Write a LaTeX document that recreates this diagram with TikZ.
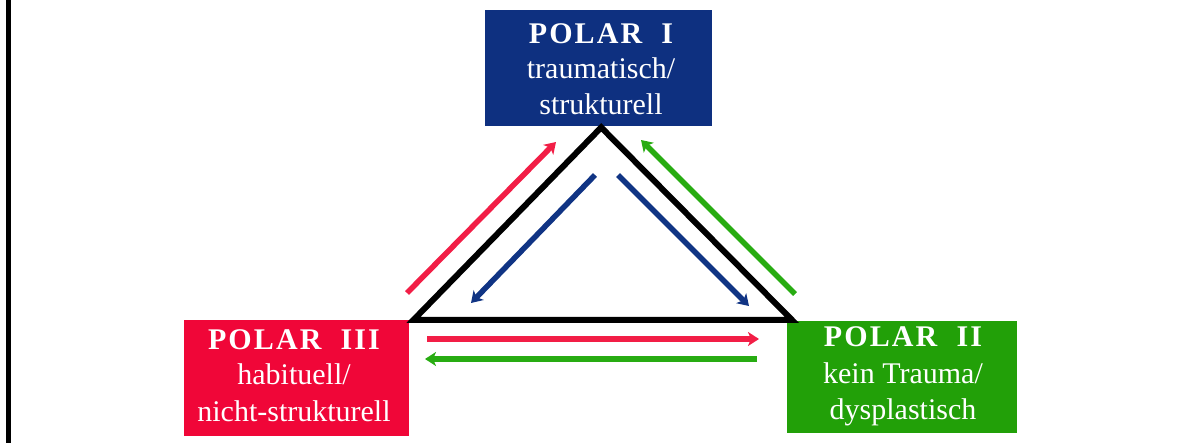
\documentclass[tikz,border=0pt]{standalone}
\usepackage{fontspec}
\setmainfont{Liberation Serif}
\usetikzlibrary{arrows.meta}
\definecolor{pblue}{RGB}{14,48,128}
\definecolor{pred}{RGB}{240,6,56}
\definecolor{pgreen}{RGB}{34,160,8}
\definecolor{ared}{RGB}{242,30,70}
\definecolor{ablue}{RGB}{16,52,132}
\definecolor{agreen}{RGB}{40,172,18}
\begin{document}
\begin{tikzpicture}[x=1pt,y=-1pt,
  polebox/.style={rectangle, draw=none, anchor=north west, inner sep=0pt},
  title/.style={anchor=base, text=white, inner sep=0pt, font=\fontsize{30}{36}\selectfont\bfseries\addfontfeatures{LetterSpace=7}},
  sub/.style={anchor=base, text=white, inner sep=0pt, font=\fontsize{30}{36}\selectfont},
  arr/.style={line width=5.5pt, -{Stealth[length=11pt,width=14pt,inset=3pt]}}
]
\useasboundingbox (0,0) rectangle (1195,443);
\draw[line width=5pt] (8.5,0) -- (8.5,443);

% boxes
\node[polebox, fill=pblue, minimum width=227pt, minimum height=116pt] (p1) at (485,10) {};
\node[polebox, fill=pred, minimum width=225pt, minimum height=116pt] (p3) at (184,320) {};
\node[polebox, fill=pgreen, minimum width=230pt, minimum height=112pt] (p2) at (787,321) {};

% texts
\node[title] (p1a) at (601,44) {POLAR\ \ I};
\node[sub] (p1b) at (601,79) {traumatisch/};
\node[sub] (p1c) at (601,115) {strukturell};

\node[title] (p3a) at (294,350) {POLAR\ \ III};
\node[sub] (p3b) at (294,385) {habituell/};
\node[sub] (p3c) at (294,422) {nicht-strukturell};

\node[title] (p2a) at (903,347) {POLAR\ \ II};
\node[sub] (p2b) at (903,384) {kein Trauma/};
\node[sub] (p2c) at (903,420) {dysplastisch};

% triangle
\draw[line width=6pt, line join=miter]
  ([shift={(2.5,1)}]p1.south) -- ([shift={(4,0)}]p3.north east) -- ([shift={(5,-1)}]p2.north west) -- cycle;

% arrow coordinates
\coordinate (r1s) at (407,293); \coordinate (r1e) at (556,142);
\coordinate (g1s) at (795,294); \coordinate (g1e) at (641,140);
\coordinate (b1s) at (595,175); \coordinate (b1e) at (471,303);
\coordinate (b2s) at (618,175); \coordinate (b2e) at (749,306);
\coordinate (r2s) at (427,339); \coordinate (r2e) at (759,339);
\coordinate (g2s) at (757,359); \coordinate (g2e) at (425,359);

\draw[arr, ared] (r1s) -- (r1e);
\draw[arr, agreen] (g1s) -- (g1e);
\draw[arr, ablue] (b1s) -- (b1e);
\draw[arr, ablue] (b2s) -- (b2e);
\draw[arr, ared] (r2s) -- (r2e);
\draw[arr, agreen] (g2s) -- (g2e);
\end{tikzpicture}
\end{document}
